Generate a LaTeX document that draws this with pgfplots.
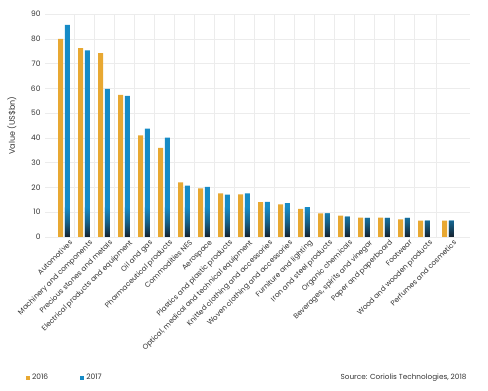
\documentclass[border=0pt]{standalone}
\usepackage{pgfplots}
\pgfplotsset{compat=1.18}
\usepackage{pgfplotstable}
\usepackage{fontspec}
\setmainfont{Poppins}
\definecolor{c16}{HTML}{E8A832}
\definecolor{c17}{HTML}{168BC6}
\definecolor{cdark}{HTML}{16222E}
\definecolor{gridc}{HTML}{ECECEC}
\definecolor{txt}{HTML}{333333}
\pgfplotstableread{
x o b
0 80.0 85.6
1 76.2 75.3
2 74.2 59.8
3 57.4 57.0
4 41.0 43.7
5 36.0 40.1
6 22.0 20.7
7 19.6 20.2
8 17.6 17.1
9 17.2 17.6
10 14.1 14.2
11 13.2 13.7
12 11.4 12.1
13 9.5 9.5
14 8.6 8.2
15 7.8 7.7
16 7.8 7.7
17 7.1 7.7
18 6.6 6.6
19.2 6.6 6.6
}\data
\pgfplotstableread{
x s
0 12
1 12
2 12
3 12
4 12
5 12
6 12
7 12
8 12
9 12
10 12
11 12
12 12
13 9.5
14 8.2
15 7.7
16 7.7
17 7.7
18 6.6
19.2 6.6
}\shade
\begin{document}
\begin{tikzpicture}
\useasboundingbox (0,0) rectangle (488pt,391pt);
\begin{axis}[
  at={(45pt,154pt)}, anchor=south west,
  scale only axis, width=425pt, height=223pt,
  xmin=-0.95, xmax=20.3, ymin=0, ymax=90,
  ytick={0,10,...,90},
  xtick=data,
  xticklabels={Automotives,Machinery and components,Precious stones and metals,Electrical products and equipment,Oil and gas,Pharmaceutical products,Commodities NES,Aerospace,Plastics and plastic products,{Optical, medical and technical equipment},Knitted clothing and accessories,Woven clothing and accessories,Furniture and lighting,Iron and steel products,Organic chemicals,{Beverages, spirits and vinegar},Paper and paperboard,Footwear,Wood and wooden products,Perfumes and cosmetics},
  minor xtick={0.5,1.5,...,17.5,18.6},
  ymajorgrids, xminorgrids,
  major grid style={gridc, line width=0.5pt},
  minor grid style={gridc, line width=0.5pt},
  axis line style={draw=none},
  tick style={draw=none},
  /pgf/number format/assume math mode=true,
  yticklabel style={font=\fontsize{7.5}{8}\selectfont, text=txt, xshift=-1pt},
  xticklabel style={font=\fontsize{7.2}{8}\selectfont, text=txt, rotate=45, anchor=north east, inner sep=0pt, xshift=2pt, yshift=-5pt},
  ylabel={Value (US\$bn)},
  ylabel style={at={(rel axis cs:-0.078,0.5)}, anchor=center, font=\fontsize{8}{9}\selectfont, text=txt},
  legend style={draw=none, fill=none, at={(rel axis cs:-0.045,-0.632)}, anchor=west,
     font=\fontsize{7.5}{8}\selectfont, text=txt, inner sep=0pt},
  legend columns=2,
  /tikz/every even column/.append style={column sep=30pt},
  legend image code/.code={\fill[#1] (0pt,-2pt) rectangle (4pt,2pt);},
  clip=false,
]
\addplot[ybar, bar width=5pt, bar shift=-3.3pt, fill=c16, draw=none] table[x=x,y=o]{\data};
\addlegendentry{2016}
\addplot[ybar, bar width=5pt, bar shift=3.3pt, fill=c17, draw=none] table[x=x,y=b]{\data};
\addlegendentry{2017}
\addplot[ybar, bar width=5pt, bar shift=3.3pt, draw=none, top color=c17, bottom color=cdark, middle color=c17!60!cdark, forget plot] table[x=x,y=s]{\shade};
\node[anchor=east, font=\fontsize{7.3}{8}\selectfont, text=txt] at (rel axis cs:1,-0.632) {Source: Coriolis Technologies, 2018};
\end{axis}
\end{tikzpicture}
\end{document}
